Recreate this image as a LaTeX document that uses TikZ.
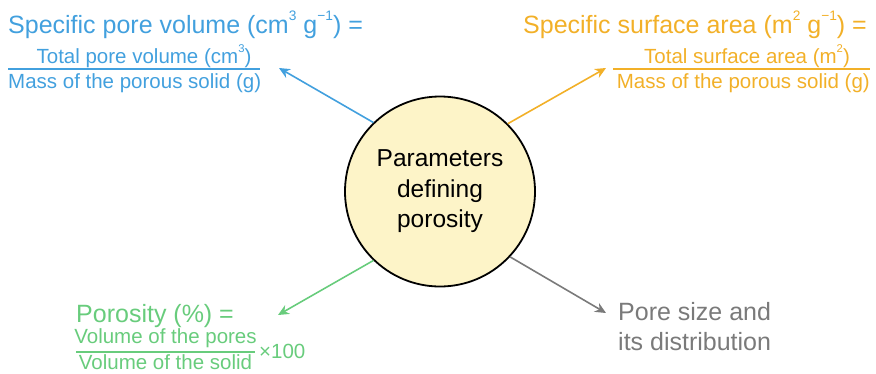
\documentclass[tikz,border=0pt]{standalone}
\usepackage{fontspec}
\usepackage{graphicx}
\setmainfont{Liberation Sans}
\usetikzlibrary{arrows.meta}
\definecolor{cblue}{RGB}{66,160,222}
\definecolor{corange}{RGB}{242,176,40}
\definecolor{cgreen}{RGB}{104,204,124}
\definecolor{cgray}{RGB}{122,122,122}
\definecolor{cfill}{RGB}{253,244,200}
\newcommand\upx[1]{\raisebox{0.95ex}{\scalebox{0.55}{#1}}}
\tikzset{
  big/.style={inner sep=0pt, font=\fontsize{25}{30}\selectfont},
  small/.style={inner sep=0pt, font=\fontsize{20.5}{24}\selectfont},
  conn/.style={line width=1.6pt, -{Stealth[length=11pt,width=10pt]}},
  fracline/.style={line width=1.2pt},
}
\begin{document}
\begin{tikzpicture}[x=1pt,y=-1pt]
\useasboundingbox (0,0) rectangle (876,373);
% central circle
\node[circle, draw=black, line width=1.8pt, fill=cfill, minimum size=190pt, inner sep=0pt,
      align=center, font=\fontsize{24.5}{30.5}\selectfont] (c) at (440,191.5)
      {Parameters\\defining\\porosity};
% blue
\node[big, text=cblue, anchor=base west] (bt) at (8,33) {Specific pore volume (cm\upx{3} g\upx{−1}) =};
\node[small, text=cblue, anchor=base] (bn) at (144,63) {Total pore volume (cm\upx{3})};
\node[small, text=cblue, anchor=base west] (bd) at (8,88) {Mass of the porous solid (g)};
\coordinate (bl1) at (8,69); \coordinate (bl2) at (260,69);
\draw[cblue, fracline] (bl1) -- (bl2);
% orange
\node[big, text=corange, anchor=base east] (ot) at (867,33) {Specific surface area (m\upx{2} g\upx{−1}) =};
\node[small, text=corange, anchor=base] (on) at (747,63) {Total surface area (m\upx{2})};
\node[small, text=corange, anchor=base east] (od) at (870,88) {Mass of the porous solid (g)};
\coordinate (ol1) at (613,69); \coordinate (ol2) at (870,69);
\draw[corange, fracline] (ol1) -- (ol2);
% green
\node[big, text=cgreen, anchor=base west] (gt) at (76,322) {Porosity (\%) =};
\node[small, text=cgreen, anchor=base] (gn) at (165.5,343) {Volume of the pores};
\node[small, text=cgreen, anchor=base] (gd) at (165.5,369) {Volume of the solid};
\coordinate (gl1) at (76,352); \coordinate (gl2) at (255,352);
\draw[cgreen, fracline] (gl1) -- (gl2);
\node[small, text=cgreen, anchor=base west] (gx) at (259,358) {×100};
% gray
\node[big, text=cgray, anchor=base west] (pt) at (618,320) {Pore size and};
\node[big, text=cgray, anchor=base west] (pd) at (618,350) {its distribution};
% arrow tips
\coordinate (tb) at (279,68);
\coordinate (to) at (606,68);
\coordinate (tg) at (278,315);
\coordinate (tp) at (606,313);
\draw[conn, cblue] (c.134) -- (tb);
\draw[conn, corange] (c.45) -- (to);
\draw[conn, cgreen] (c.226.5) -- (tg);
\draw[conn, cgray] (c.-43.6) -- (tp);
\end{tikzpicture}
\end{document}
